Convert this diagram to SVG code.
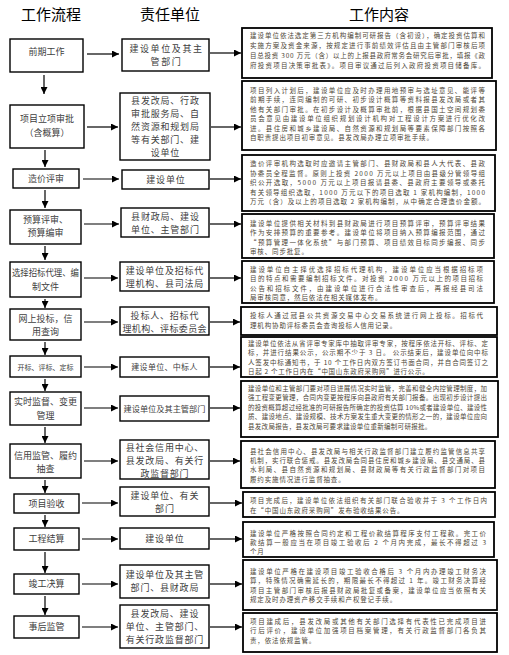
<svg xmlns="http://www.w3.org/2000/svg" width="509" height="655" viewBox="0 0 509 655">
<style>
.hd{font-family:"Noto Sans CJK SC",sans-serif;font-size:15px;fill:#000;text-anchor:middle}
.lb{fill:#fff;stroke:#000;stroke-width:1.4}
.rb{fill:#fff;stroke:#000;stroke-width:1.8}
.lt{font-family:"Noto Sans CJK SC",sans-serif;font-size:9px;fill:#404040;text-anchor:middle}
.mt{font-family:"Noto Sans CJK SC",sans-serif;font-size:9px;fill:#404040;text-anchor:middle;letter-spacing:0.8px}
.rt{font-family:"Noto Sans CJK SC",sans-serif;font-size:6.5px;fill:#4d4535}
.rp{font-family:"Noto Sans CJK SC",sans-serif;font-size:6.5px;fill:#4d4535;letter-spacing:0.85px}
.ar{stroke:#000;stroke-width:1.2;fill:none;marker-end:url(#ah)}
</style>
<defs>
<marker id="ah" viewBox="0 0 10 10" refX="10" refY="5" markerUnits="userSpaceOnUse" markerWidth="7" markerHeight="7" orient="auto">
<path d="M0,0 L10,5 L0,10 z" fill="#000"/>
</marker>
</defs>
<rect width="509" height="655" fill="#fff"/>
<g id="headers">
<text class="hd" x="51" y="20">工作流程</text>
<text class="hd" x="170" y="20">责任单位</text>
<text class="hd" x="379" y="20">工作内容</text>
</g>
<g id="connectors">
<line class="ar" x1="44" y1="75" x2="44" y2="94"/>
<line class="ar" x1="45" y1="150" x2="45" y2="167"/>
<line class="ar" x1="45" y1="190" x2="45" y2="208"/>
<line class="ar" x1="45" y1="246" x2="45" y2="260"/>
<line class="ar" x1="45" y1="299" x2="45" y2="308"/>
<line class="ar" x1="45" y1="342" x2="45" y2="355"/>
<line class="ar" x1="45" y1="379" x2="45" y2="391"/>
<line class="ar" x1="45" y1="427" x2="45" y2="443"/>
<line class="ar" x1="45" y1="480" x2="45" y2="493"/>
<line class="ar" x1="45" y1="515" x2="45" y2="527"/>
<line class="ar" x1="45" y1="552" x2="45" y2="573"/>
<line class="ar" x1="45" y1="596" x2="45" y2="615"/>
<line class="ar" x1="87" y1="54" x2="119" y2="54"/>
<line class="ar" x1="210" y1="53" x2="241" y2="53"/>
<line class="ar" x1="87" y1="127" x2="118" y2="127"/>
<line class="ar" x1="211" y1="127" x2="241" y2="127"/>
<line class="ar" x1="83" y1="179" x2="119" y2="179"/>
<line class="ar" x1="210" y1="179" x2="241" y2="179"/>
<line class="ar" x1="84" y1="224" x2="119" y2="224"/>
<line class="ar" x1="210" y1="224" x2="241" y2="224"/>
<line class="ar" x1="84" y1="278" x2="118" y2="278"/>
<line class="ar" x1="210" y1="278" x2="241" y2="278"/>
<line class="ar" x1="84" y1="322" x2="118" y2="322"/>
<line class="ar" x1="210" y1="322" x2="240" y2="322"/>
<line class="ar" x1="84" y1="367" x2="118" y2="367"/>
<line class="ar" x1="210" y1="367" x2="240" y2="367"/>
<line class="ar" x1="84" y1="408" x2="118" y2="408"/>
<line class="ar" x1="210" y1="408" x2="240" y2="408"/>
<line class="ar" x1="84" y1="461" x2="118" y2="461"/>
<line class="ar" x1="210" y1="461" x2="240" y2="461"/>
<line class="ar" x1="82" y1="503" x2="118" y2="503"/>
<line class="ar" x1="210" y1="503" x2="242" y2="503"/>
<line class="ar" x1="82" y1="539" x2="118" y2="539"/>
<line class="ar" x1="210" y1="539" x2="242" y2="539"/>
<line class="ar" x1="82" y1="584" x2="118" y2="584"/>
<line class="ar" x1="210" y1="584" x2="242" y2="584"/>
<line class="ar" x1="82" y1="627" x2="118" y2="627"/>
<line class="ar" x1="210" y1="627" x2="242" y2="627"/>
</g>
<g id="step1">
<rect class="lb" x="10" y="39" width="73" height="33"/>
<text class="lt" x="46.5" y="55">前期工作</text>
</g>
<g id="step2">
<rect class="lb" x="10" y="105" width="74" height="43"/>
<text class="lt" x="47" y="122">项目立项审批</text>
<text class="lt" x="47" y="135.5">（含概算）</text>
</g>
<g id="step3">
<rect class="lb" x="13" y="169" width="66" height="19"/>
<text class="lt" x="46" y="181.5">造价评审</text>
</g>
<g id="step4">
<rect class="lb" x="10" y="210" width="71" height="34"/>
<text class="lt" x="45.5" y="223">预算评审、</text>
<text class="lt" x="45.5" y="236.2">预算编审</text>
</g>
<g id="step5">
<rect class="lb" x="10" y="262" width="71" height="35"/>
<text class="lt" x="45.5" y="276" textLength="67" lengthAdjust="spacingAndGlyphs">选择招标代理、编</text>
<text class="lt" x="45.5" y="289.5">制文件</text>
</g>
<g id="step6">
<rect class="lb" x="10" y="309" width="71" height="31"/>
<text class="lt" x="45.5" y="321.5">网上投标，信</text>
<text class="lt" x="45.5" y="334.7">用查询</text>
</g>
<g id="step7">
<rect class="lb" x="10" y="356" width="71" height="21"/>
<text class="lt" x="45.5" y="369.5" style="font-size:7px">开标、评标、定标</text>
</g>
<g id="step8">
<rect class="lb" x="10" y="392" width="71" height="33"/>
<text class="lt" x="45.5" y="405">实时监督、变更</text>
<text class="lt" x="45.5" y="418.5">管理</text>
</g>
<g id="step9">
<rect class="lb" x="10" y="444" width="71" height="34"/>
<text class="lt" x="45.5" y="458.5">信用监管、履约</text>
<text class="lt" x="45.5" y="471.7">抽查</text>
</g>
<g id="step10">
<rect class="lb" x="14" y="494" width="65" height="19"/>
<text class="lt" x="46.5" y="506.5">项目验收</text>
</g>
<g id="step11">
<rect class="lb" x="14" y="528" width="65" height="22"/>
<text class="lt" x="46.5" y="542">工程结算</text>
</g>
<g id="step12">
<rect class="lb" x="14" y="574" width="65" height="20"/>
<text class="lt" x="46.5" y="587">竣工决算</text>
</g>
<g id="step13">
<rect class="lb" x="14" y="616" width="65" height="22"/>
<text class="lt" x="46.5" y="630">事后监管</text>
</g>
<g id="unit1">
<rect class="lb" x="122" y="39" width="87" height="32"/>
<text class="mt" x="166.5" y="51.5" style="letter-spacing:1.6px">建设单位及其主</text>
<text class="mt" x="166.5" y="64.7" style="letter-spacing:1.6px">管部门</text>
</g>
<g id="unit2">
<rect class="lb" x="120" y="93" width="90" height="67"/>
<text class="mt" x="165.4" y="103.5">县发改局、行政</text>
<text class="mt" x="165.4" y="116.7">审批服务局、自</text>
<text class="mt" x="165.4" y="129.9">然资源和规划局</text>
<text class="mt" x="165.4" y="143.1">等有关部门、建</text>
<text class="mt" x="165.4" y="156.3">设单位</text>
</g>
<g id="unit3">
<rect class="lb" x="122" y="170" width="87" height="19"/>
<text class="mt" x="165.9" y="182.8">建设单位</text>
</g>
<g id="unit4">
<rect class="lb" x="121" y="208" width="88" height="29"/>
<text class="mt" x="165.4" y="220">县财政局、建设</text>
<text class="mt" x="165.4" y="233.2">单位、主管部门</text>
</g>
<g id="unit5">
<rect class="lb" x="120" y="262" width="89" height="29"/>
<text class="mt" x="164.9" y="274">建设单位及招标代</text>
<text class="mt" x="164.9" y="287.2">理机构、县司法局</text>
</g>
<g id="unit6">
<rect class="lb" x="120" y="307" width="89" height="28"/>
<text class="mt" x="164.9" y="318.5">投标人、招标代</text>
<text class="mt" x="164.7" y="331.7" style="letter-spacing:0.4px">理机构、评标委员会</text>
</g>
<g id="unit7">
<rect class="lb" x="120" y="357" width="89" height="20"/>
<text class="mt" x="164.5" y="370" style="font-size:8px;letter-spacing:0.3px">建设单位、中标人</text>
</g>
<g id="unit8">
<rect class="lb" x="120" y="396" width="89" height="25"/>
<text class="mt" x="164.5" y="411.5" style="font-size:8.2px;letter-spacing:0px">建设单位及其主管部门</text>
</g>
<g id="unit9">
<rect class="lb" x="120" y="440" width="89" height="39"/>
<text class="mt" x="164.9" y="450.8">县社会信用中心、</text>
<text class="mt" x="164.9" y="464">县发改局、有关行</text>
<text class="mt" x="164.9" y="477.2">政监督部门</text>
</g>
<g id="unit10">
<rect class="lb" x="120" y="487" width="89" height="29"/>
<text class="mt" x="164.9" y="499">建设单位、有关</text>
<text class="mt" x="164.9" y="512.2">部门</text>
</g>
<g id="unit11">
<rect class="lb" x="120" y="528" width="89" height="21"/>
<text class="mt" x="164.9" y="542">建设单位</text>
</g>
<g id="unit12">
<rect class="lb" x="120" y="565" width="89" height="33"/>
<text class="mt" x="164.9" y="578">建设单位及其主管</text>
<text class="mt" x="164.9" y="591.2">部门、县财政局</text>
</g>
<g id="unit13">
<rect class="lb" x="120" y="605" width="89" height="43"/>
<text class="mt" x="164.9" y="616.5">县发改局、建设</text>
<text class="mt" x="164.9" y="629.7">单位、主管部门、</text>
<text class="mt" x="164.9" y="642.9">有关行政监督部门</text>
</g>
<g id="content1">
<rect class="rb" x="242" y="28" width="250" height="50"/>
<text class="rt" x="250" y="38" textLength="235" lengthAdjust="spacing">建设单位依法选定第三方机构编制可研报告（含初设），确定投资估算和</text>
<text class="rt" x="250" y="48" textLength="235" lengthAdjust="spacing">实施方案及资金来源，按规定进行事前绩效评估且由主管部门审核后项</text>
<text class="rt" x="250" y="58" textLength="235" lengthAdjust="spacing">目总投资 300 万元（含）以上的上报县政府常务会研究后审批，填报《政</text>
<text class="rt" x="250" y="68" textLength="235" lengthAdjust="spacing">府投资项目决策审批表》。项目审议通过后列入政府投资项目储备库。</text>
</g>
<g id="content2">
<rect class="rb" x="242" y="81" width="254" height="69"/>
<text class="rt" x="250" y="92.5" textLength="235" lengthAdjust="spacing">项目列入计划后，建设单位应及时办理用地预审与选址意见、能评等</text>
<text class="rt" x="250" y="102" textLength="235" lengthAdjust="spacing">前期手续，连同编制的可研、初步设计概算等资料报县发改局或者其</text>
<text class="rt" x="250" y="111.5" textLength="235" lengthAdjust="spacing">他有关部门审批。在初步设计及概算审批前，根据县国土空间规划委</text>
<text class="rt" x="250" y="121" textLength="235" lengthAdjust="spacing">员会意见由建设单位组织规划设计机构对工程设计方案进行优化改</text>
<text class="rt" x="250" y="130.5" textLength="235" lengthAdjust="spacing">进。县住房和城乡建设局、自然资源和规划局等要素保障部门按照各</text>
<text class="rp" x="250" y="140">自职责提出项目初审意见。县发改局办理立项审批手续。</text>
</g>
<g id="content3">
<rect class="rb" x="242" y="155" width="253" height="56"/>
<text class="rt" x="250" y="166" textLength="235" lengthAdjust="spacing">造价评审机构选取时应邀请主管部门、县财政局和县人大代表、县政</text>
<text class="rt" x="250" y="175.5" textLength="235" lengthAdjust="spacing">协委员全程监督。原则上投资 2000 万元以上项目由县级分管领导组</text>
<text class="rt" x="250" y="185" textLength="235" lengthAdjust="spacing">织公开选取，5000 万元以上项目报请县委、县政府主要领导或委托</text>
<text class="rt" x="250" y="194.5" textLength="235" lengthAdjust="spacing">有关领导组织选取，1000 万元以下的项目选取 1 家机构编制，1000</text>
<text class="rt" x="250" y="204" textLength="235" lengthAdjust="spacing">万元（含）及以上的项目选取 2 家机构编制，从中确定合理造价金额。</text>
</g>
<g id="content4">
<rect class="rb" x="242" y="214" width="252" height="44"/>
<text class="rt" x="250" y="225.5" textLength="235" lengthAdjust="spacing">建设单位提供相关材料到县财政局进行项目预算评审，预算评审结果</text>
<text class="rt" x="250" y="235" textLength="235" lengthAdjust="spacing">作为安排预算的重要参考。建设单位将项目纳入预算编报范围，通过</text>
<text class="rt" x="250" y="244.5" textLength="235" lengthAdjust="spacing">“预算管理一体化系统”与部门预算、项目绩效目标同步编报、同步</text>
<text class="rp" x="250" y="254">审核、同步批复。</text>
</g>
<g id="content5">
<rect class="rb" x="242" y="261" width="252" height="42"/>
<text class="rt" x="250" y="272" textLength="233" lengthAdjust="spacing">建设单位自主择优选择招标代理机构，建设单位应当根据招标项</text>
<text class="rt" x="250" y="281.4" textLength="233" lengthAdjust="spacing">目的特点和需要编制招标文件。对投资 2000 万元以上的项目招标</text>
<text class="rt" x="250" y="290.8" textLength="233" lengthAdjust="spacing">公告和招标文件，由建设单位进行合法性审查后，再报经县司法</text>
<text class="rp" x="250" y="300.2">局审核同意，然后依法在相关媒体发布。</text>
</g>
<g id="content6">
<rect class="rb" x="241" y="307" width="256" height="28"/>
<text class="rt" x="250" y="317.5" textLength="233" lengthAdjust="spacing">投标人通过冠县公共资源交易中心交易系统进行网上投标。招标代</text>
<text class="rp" x="250" y="327.5">理机构协助评标委员会查询投标人信用记录。</text>
</g>
<g id="content7">
<rect class="rb" x="241" y="337" width="256" height="40"/>
<text class="rt" x="248" y="346" textLength="240" lengthAdjust="spacing">建设单位依法从省评审专家库中抽取评审专家，按程序依法开标、评标、定</text>
<text class="rt" x="248" y="355.4" textLength="240" lengthAdjust="spacing">标，并进行结果公示，公示期不少于 3 日。 公示结束后，建设单位向中标</text>
<text class="rt" x="248" y="364.8" textLength="240" lengthAdjust="spacing">人签发中标通知书，于 10 个工作日内双方签订书面合同，并自合同签订之</text>
<text class="rp" x="248" y="374.2" style="letter-spacing:0.7px">日起 2 个工作日内在“中国山东政府采购网”进行公示。</text>
</g>
<g id="content8">
<rect class="rb" x="241" y="381" width="257" height="56"/>
<text class="rt" x="248" y="390.5" textLength="239" lengthAdjust="spacing">建设单位和主管部门要对项目进展情况实时监管，完善和健全内控管理制度，加</text>
<text class="rt" x="248" y="400" textLength="239" lengthAdjust="spacing">强工程变更管理，合同内变更按程序向县政府有关部门报备。出现初步设计提出</text>
<text class="rt" x="248" y="409.6" textLength="239" lengthAdjust="spacing">的投资概算超过经批准的可研报告所确定的投资估算 10%或者建设单位、建设性</text>
<text class="rt" x="248" y="419.2" textLength="239" lengthAdjust="spacing">质、建设地点、建设规模、技术方案发生重大变更的情形之一的，建设单位应向</text>
<text class="rp" x="248" y="428.8" style="letter-spacing:0.3px">县发改局报告，县发改局可要求建设单位重新编制可研报批。</text>
</g>
<g id="content9">
<rect class="rb" x="241" y="441" width="254" height="47"/>
<text class="rt" x="250" y="453.5" textLength="235" lengthAdjust="spacing">县社会信用中心、县发改局与相关行政监督部门建立履约监管信息共享</text>
<text class="rt" x="250" y="463" textLength="235" lengthAdjust="spacing">机制，实行联合惩戒。县发改局会同县住房和城乡建设局、县交通局、县</text>
<text class="rt" x="250" y="472.4" textLength="235" lengthAdjust="spacing">水利局、县自然资源和规划局、县财政局等有关行政监督部门对项目</text>
<text class="rp" x="250" y="481.8">履约实施情况进行监督抽查。</text>
</g>
<g id="content10">
<rect class="rb" x="243" y="492" width="252" height="25"/>
<text class="rt" x="250" y="503" textLength="237" lengthAdjust="spacing">项目完成后，建设单位依法组织有关部门联合验收并于 3 个工作日内</text>
<text class="rp" x="250" y="512.5">在“中国山东政府采购网”发布验收结果公告。</text>
</g>
<g id="content11">
<rect class="rb" x="243" y="522" width="251" height="35"/>
<text class="rt" x="250" y="535.5" textLength="236" lengthAdjust="spacing">建设单位严格按照合同约定和工程价款结算程序支付工程款。完工价</text>
<text class="rt" x="250" y="545" textLength="236" lengthAdjust="spacing">款结算一般应当在项目竣工验收后 2 个月内完成，最长不得超过 3</text>
<text class="rp" x="250" y="554.4">个月</text>
</g>
<g id="content12">
<rect class="rb" x="243" y="560" width="254" height="50"/>
<text class="rt" x="250" y="573.5" textLength="236" lengthAdjust="spacing">建设单位严格在建设项目竣工验收合格后 3 个月内办理竣工财务决</text>
<text class="rt" x="250" y="583" textLength="236" lengthAdjust="spacing">算，特殊情况确需延长的，期限最长不得超过 1 年。竣工财务决算经</text>
<text class="rt" x="250" y="592.5" textLength="236" lengthAdjust="spacing">项目主管部门审核后报县财政局批复或备案，建设单位应当依照有关</text>
<text class="rp" x="250" y="602">规定及时办理资产移交手续和产权登记手续。</text>
</g>
<g id="content13">
<rect class="rb" x="243" y="613" width="254" height="39"/>
<text class="rt" x="250" y="623.5" textLength="236" lengthAdjust="spacing">项目建成后，县发改局或其他有关部门选择有代表性已完成项目进</text>
<text class="rt" x="250" y="633" textLength="236" lengthAdjust="spacing">行后评价，建设单位加强项目档案管理，有关行政监督部门各负其</text>
<text class="rp" x="250" y="642.5">责，依法依规监管。</text>
</g>
</svg>
